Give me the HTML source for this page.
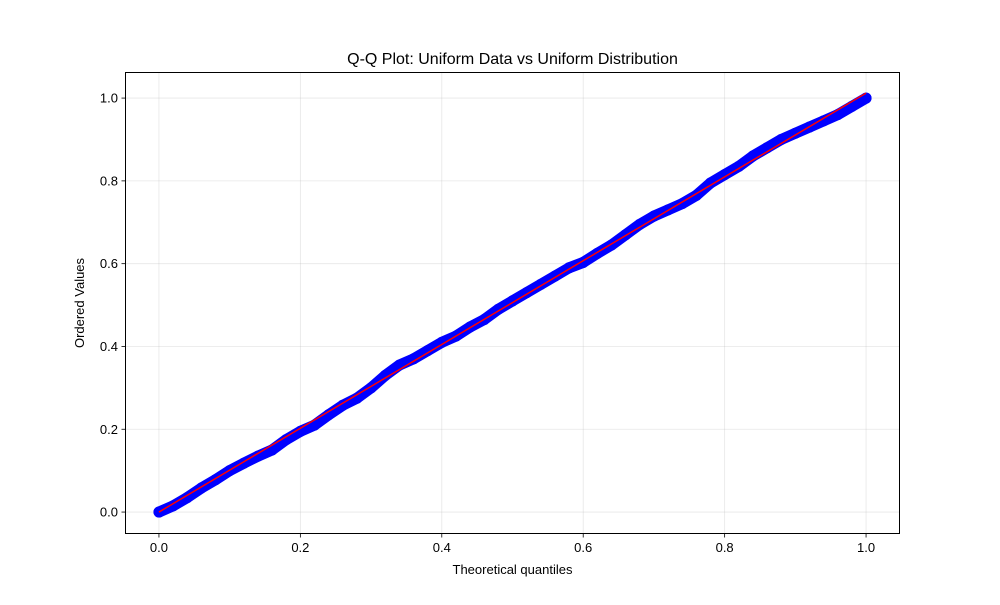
<!DOCTYPE html>
<html><head><meta charset="utf-8"><style>
body{margin:0;background:#fff}
svg text{font-family:"Liberation Sans","DejaVu Sans",sans-serif;fill:#000}
</style></head><body>
<svg id="chart" width="1000" height="600" xmlns="http://www.w3.org/2000/svg">
<rect width="1000" height="600" fill="#fff"/>
<g id="grid"></g>
<g id="marks"></g>
<rect x="125.5" y="72.5" width="774" height="461" fill="none" stroke="#000" stroke-width="1"/>
<g id="ticks"></g>
<text x="512.5" y="64" font-size="16" text-anchor="middle">Q-Q Plot: Uniform Data vs Uniform Distribution</text>
<text x="512.5" y="574" font-size="13" text-anchor="middle">Theoretical quantiles</text>
<text transform="translate(84,303) rotate(-90)" font-size="13" text-anchor="middle">Ordered Values</text>
</svg>
<script>
const quantiles=[0,0.02,0.04,0.06,0.08,0.10,0.12,0.14,0.16,0.18,0.20,0.22,0.24,0.26,0.28,0.30,0.32,0.34,0.36,0.38,0.40,0.42,0.44,0.46,0.48,0.50,0.52,0.54,0.56,0.58,0.60,0.62,0.64,0.66,0.68,0.70,0.72,0.74,0.76,0.78,0.80,0.82,0.84,0.86,0.88,0.90,0.92,0.94,0.96,0.98,1.0];
const orderedValues=[0.0,0.015,0.035,0.058,0.078,0.1,0.118,0.135,0.15,0.175,0.195,0.21,0.235,0.258,0.275,0.3,0.33,0.355,0.37,0.39,0.41,0.425,0.447,0.465,0.49,0.51,0.53,0.55,0.57,0.59,0.603,0.625,0.645,0.67,0.695,0.715,0.73,0.745,0.765,0.795,0.815,0.835,0.86,0.88,0.9,0.915,0.93,0.945,0.96,0.98,1.0];
const fitLineX=[0,1];
const fitLineY=[0.0,1.012];
const xTicks=[0,0.2,0.4,0.6,0.8,1.0];
const yTicks=[0,0.2,0.4,0.6,0.8,1.0];
const xTickLabels=["0.0","0.2","0.4","0.6","0.8","1.0"];
const yTickLabels=["0.0","0.2","0.4","0.6","0.8","1.0"];

const X0=125,X1=900,Y0=534,Y1=72,xmin=-0.048,xmax=1.048,ymin=-0.053,ymax=1.063;
const sx=v=>X0+(v-xmin)/(xmax-xmin)*(X1-X0);
const sy=v=>Y0-(v-ymin)/(ymax-ymin)*(Y0-Y1);
const NS="http://www.w3.org/2000/svg";
function mk(tag,attrs,parent){const e=document.createElementNS(NS,tag);for(const k in attrs)e.setAttribute(k,attrs[k]);parent.appendChild(e);return e;}
const grid=document.getElementById('grid'),marks=document.getElementById('marks'),ticks=document.getElementById('ticks');
xTicks.forEach((t,i)=>{
  const g=mk('line',{x1:sx(t),x2:sx(t),y1:Y1,y2:Y0,stroke:'#b0b0b0','stroke-opacity':0.3,'stroke-width':0.8},grid);
  
  
  const tk=mk('line',{x1:sx(t),x2:sx(t),y1:Y0,y2:Y0+3.5,stroke:'#000','stroke-width':0.8},ticks);
  
  
  const tx=mk('text',{x:sx(t),y:Y0+18,'font-size':13,'text-anchor':'middle'},ticks);
  tx.textContent=xTickLabels[i];
  
  
});
yTicks.forEach((t,i)=>{
  const g=mk('line',{x1:X0,x2:X1,y1:sy(t),y2:sy(t),stroke:'#b0b0b0','stroke-opacity':0.3,'stroke-width':0.8},grid);
  
  
  const tk=mk('line',{x1:X0-3.5,x2:X0,y1:sy(t),y2:sy(t),stroke:'#000','stroke-width':0.8},ticks);
  
  
  const tx=mk('text',{x:X0-7,y:sy(t)+4.5,'font-size':13,'text-anchor':'end'},ticks);
  tx.textContent=yTickLabels[i];
  
  
});
const band=mk('polyline',{points:quantiles.map((q,i)=>sx(q)+','+sy(orderedValues[i])).join(' '),fill:'none',stroke:'#0000ff','stroke-width':11,'stroke-linejoin':'round','stroke-linecap':'round'},marks);


quantiles.forEach((q,i)=>{
  const c=mk('circle',{cx:sx(q),cy:sy(orderedValues[i]),r:5.5,fill:'#0000ff'},marks);
  
  
});
const fit=mk('line',{x1:sx(fitLineX[0]),y1:sy(fitLineY[0]),x2:sx(fitLineX[1]),y2:sy(fitLineY[1]),stroke:'#ff0000','stroke-width':1.5},marks);


</script>
</body></html>
